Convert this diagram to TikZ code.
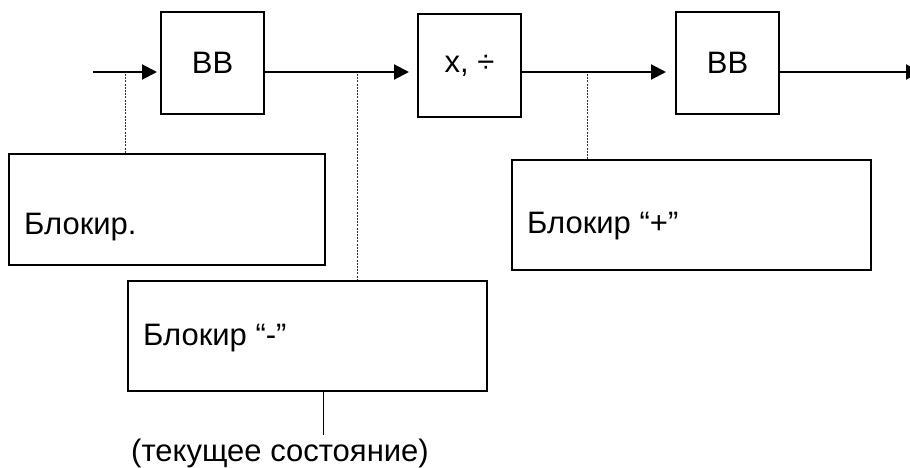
\documentclass[tikz,border=0pt]{standalone}
\usepackage{fontspec}
\setmainfont{Liberation Sans}
\usetikzlibrary{arrows.meta}
\begin{document}
\begin{tikzpicture}[x=1pt,y=-1pt,
  every node/.style={font=\fontsize{31}{37}\selectfont, inner sep=0pt},
  unitbox/.style={draw, line width=2pt, minimum width=103pt, minimum height=102pt},
  blockbox/.style={draw, line width=2pt},
  flow/.style={line width=2pt, -{Triangle[length=15pt,width=15pt]}},
  probe/.style={line width=0.9pt, dash pattern=on 2pt off 1.2pt, draw=black!80},
  lbl/.style={anchor=west}
]
\useasboundingbox (0,0) rectangle (910,468);
\clip (0,0) rectangle (910,468);

% units on the main line
\node[unitbox] (bb1) at (212.5,63) {ВВ};
\node[unitbox, minimum height=103pt] (mul) at (469.5,65.5) {x, ÷};
\node[unitbox] (bb2) at (727.5,63) {ВВ};

% blocking boxes
\node[blockbox, minimum width=316pt, minimum height=111pt] (blk) at (167,209.5) {};
\node[lbl] (blkt) at (24,227) {Блокир.};
\node[blockbox, minimum width=359pt, minimum height=110pt] (minus) at (307.5,336) {};
\node[lbl] (minust) at (143,338) {Блокир “-”};
\node[blockbox, minimum width=359pt, minimum height=110pt] (plus) at (691.5,215) {};
\node[lbl] (plust) at (527,226) {Блокир “+”};

% main line
\coordinate (in) at (93,72);
\coordinate (out) at (921,72);
\draw[flow, shorten >=3pt] (in) -- (bb1.west |- in);
\draw[flow, shorten >=8pt] (bb1.east |- in) -- (mul.west |- in);
\draw[flow, shorten >=9pt] (mul.east |- in) -- (bb2.west |- in);
\draw[flow] (bb2.east |- in) -- (out);

% probes
\coordinate (p1) at (125,74);
\coordinate (p2) at (357,74);
\coordinate (p3) at (587,74);
\draw[probe] (p1) -- (p1 |- blk.north);
\draw[probe] (p2) -- (p2 |- minus.north);
\draw[probe] (p3) -- (p3 |- plus.north);

% current state
\coordinate (st) at (323,435);
\draw[line width=1pt] (st |- minus.south) -- (st);
\node[anchor=west] (stt) at (131,453) {(текущее состояние)};
\end{tikzpicture}
\end{document}
